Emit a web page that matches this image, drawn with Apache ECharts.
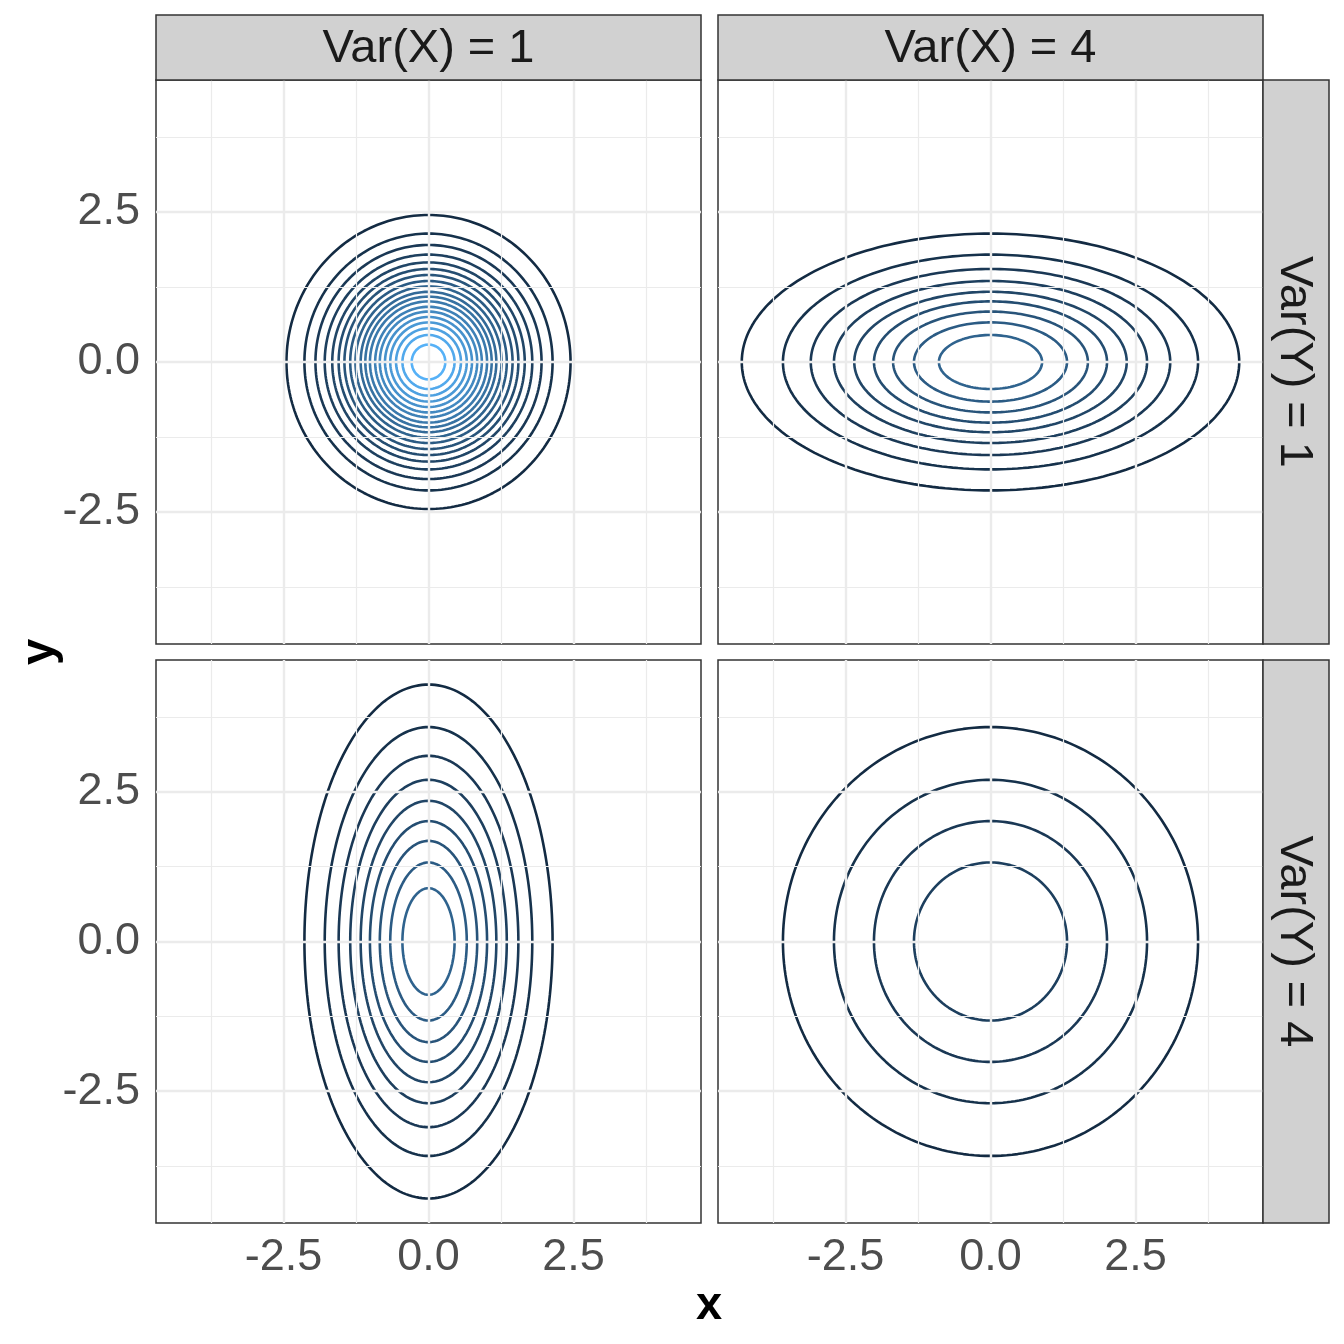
<!DOCTYPE html>
<html><head><meta charset="utf-8">
<script src="https://cdn.jsdelivr.net/npm/echarts@6/dist/echarts.min.js"></script>
<style>html,body{margin:0;padding:0;background:#fff}#c{width:1344px;height:1344px}</style>
</head><body><div id="c"></div>
<script>
// ---- data ----
const colLabels = ['Var(X) = 1', 'Var(X) = 4'];
const rowLabels = ['Var(Y) = 1', 'Var(Y) = 4'];
const tickValues = [-2.5, 0, 2.5];
const minorValues = [-3.75, -1.25, 1.25, 3.75];
const axisRange = [-4.7, 4.7];

// contour levels (density) and semi-axes of each contour per panel
const levelsTL = [0.008,0.016,0.024,0.032,0.040,0.048,0.056,0.064,0.072,0.080,0.088,0.096,0.104,0.112,0.120,0.128,0.136,0.144,0.152];
const semiXTL  = [2.45,2.14,1.95,1.79,1.66,1.55,1.45,1.35,1.26,1.17,1.09,1.01,0.92,0.84,0.75,0.66,0.56,0.45,0.29];
const semiYTL  = [2.45,2.14,1.95,1.79,1.66,1.55,1.45,1.35,1.26,1.17,1.09,1.01,0.92,0.84,0.75,0.66,0.56,0.45,0.29];

const levelsTR = [0.008,0.016,0.024,0.032,0.040,0.048,0.056,0.064,0.072];
const semiXTR  = [4.29,3.58,3.10,2.70,2.35,2.01,1.68,1.32,0.89];
const semiYTR  = [2.14,1.79,1.55,1.35,1.17,1.01,0.84,0.66,0.45];

const levelsBL = [0.008,0.016,0.024,0.032,0.040,0.048,0.056,0.064,0.072];
const semiXBL  = [2.14,1.79,1.55,1.35,1.17,1.01,0.84,0.66,0.45];
const semiYBL  = [4.29,3.58,3.10,2.70,2.35,2.01,1.68,1.32,0.89];

const levelsBR = [0.008,0.016,0.024,0.032];
const semiXBR  = [3.58,2.70,2.01,1.32];
const semiYBR  = [3.58,2.70,2.01,1.32];

const colorLow = '#132B43', colorHigh = '#56B1F7';

// ---- layout ----
const colX = [156, 718], panelW = 545;
const rowY = [80, 660], panelH = [564, 563];
const stripTop = 15, stripRightW = 66;
const FONT = "'Liberation Sans', Arial, Helvetica, sans-serif";

// ---- colour (Lab interpolation like ggplot) ----
function hexRgb(h){return [1,3,5].map(i=>parseInt(h.slice(i,i+2),16));}
function toLin(c){c/=255;return c<=0.04045?c/12.92:Math.pow((c+0.055)/1.055,2.4);}
function fromLin(c){c=c<=0.0031308?12.92*c:1.055*Math.pow(c,1/2.4)-0.055;return Math.round(Math.max(0,Math.min(1,c))*255);}
const Xn=0.95047,Yn=1,Zn=1.08883;
function f(t){return t>0.008856?Math.cbrt(t):7.787*t+16/116;}
function fi(t){return t>0.206893?t*t*t:(t-16/116)/7.787;}
function rgbLab(rgb){const [r,g,b]=rgb.map(toLin);
  const X=(0.4124*r+0.3576*g+0.1805*b)/Xn,Y=(0.2126*r+0.7152*g+0.0722*b)/Yn,Z=(0.0193*r+0.1192*g+0.9505*b)/Zn;
  return [116*f(Y)-16,500*(f(X)-f(Y)),200*(f(Y)-f(Z))];}
function labRgb(lab){const fy=(lab[0]+16)/116,fx=fy+lab[1]/500,fz=fy-lab[2]/200;
  const X=fi(fx)*Xn,Y=fi(fy)*Yn,Z=fi(fz)*Zn;
  const r=3.2406*X-1.5372*Y-0.4986*Z,g=-0.9689*X+1.8758*Y+0.0415*Z,b=0.0557*X-0.2040*Y+1.0570*Z;
  return 'rgb('+[r,g,b].map(fromLin).join(',')+')';}
const labLo=rgbLab(hexRgb(colorLow)), labHi=rgbLab(hexRgb(colorHigh));
const allLevels=[].concat(levelsTL,levelsTR,levelsBL,levelsBR);
const lvMin=Math.min(...allLevels), lvMax=Math.max(...allLevels);
function levelColor(v){const t=(v-lvMin)/(lvMax-lvMin);return labRgb(labLo.map((a,i)=>a+(labHi[i]-a)*t));}

// ---- build ----
const panels = [
  {r:0,c:0,lv:levelsTL,ax:semiXTL,ay:semiYTL},
  {r:0,c:1,lv:levelsTR,ax:semiXTR,ay:semiYTR},
  {r:1,c:0,lv:levelsBL,ax:semiXBL,ay:semiYBL},
  {r:1,c:1,lv:levelsBR,ax:semiXBR,ay:semiYBR}
];
const grids=[],xAxes=[],yAxes=[],series=[];
panels.forEach((p,i)=>{
  grids.push({left:colX[p.c],top:rowY[p.r],width:panelW,height:panelH[p.r],show:true,
    backgroundColor:'#fff',borderColor:'#333333',borderWidth:1.5,containLabel:false});
  const showX = p.r===1, showY = p.c===0;
  xAxes.push({type:'value',gridIndex:i,min:axisRange[0],max:axisRange[1],
    axisLine:{show:false},splitLine:{show:false},
    axisTick:{show:showX,customValues:tickValues,length:8,lineStyle:{color:'#333333',width:1.5}},
    axisLabel:{show:showX,customValues:tickValues,formatter:v=>Number(v).toFixed(1),
      fontSize:45,color:'#4D4D4D',fontFamily:FONT,margin:12}});
  yAxes.push({type:'value',gridIndex:i,min:axisRange[0],max:axisRange[1],
    axisLine:{show:false},splitLine:{show:false},
    axisTick:{show:showY,customValues:tickValues,length:8,lineStyle:{color:'#333333',width:1.5}},
    axisLabel:{show:showY,customValues:tickValues,formatter:v=>Number(v).toFixed(1),
      fontSize:45,color:'#4D4D4D',fontFamily:FONT,margin:16}});
  const ml=[];
  minorValues.forEach(v=>{ml.push({xAxis:v,lineStyle:{width:1.2}});ml.push({yAxis:v,lineStyle:{width:1.2}});});
  tickValues.forEach(v=>{ml.push({xAxis:v,lineStyle:{width:2.4}});ml.push({yAxis:v,lineStyle:{width:2.4}});});
  series.push({type:'line',xAxisIndex:i,yAxisIndex:i,data:[[0,0]],showSymbol:false,symbol:'none',
    lineStyle:{width:0},silent:true,z:1,
    markLine:{silent:true,symbol:['none','none'],label:{show:false},animation:false,
      lineStyle:{color:'#EBEBEB',type:'solid'},data:ml}});
  p.lv.forEach((lv,k)=>{
    const a=p.ax[k],b=p.ay[k],pts=[],N=240;
    for(let j=0;j<=N;j++){const t=2*Math.PI*j/N;pts.push([a*Math.cos(t),b*Math.sin(t)]);}
    series.push({type:'line',xAxisIndex:i,yAxisIndex:i,data:pts,showSymbol:false,symbol:'none',
      smooth:false,silent:true,z:3,lineStyle:{color:levelColor(lv),width:2.6}});
  });
});

const graphics=[];
colLabels.forEach((t,c)=>{
  graphics.push({type:'rect',shape:{x:colX[c],y:stripTop,width:panelW,height:rowY[0]-stripTop},
    style:{fill:'#D1D1D1',stroke:'#333333',lineWidth:1.5},z:10});
  graphics.push({type:'text',x:colX[c]+panelW/2,y:(stripTop+rowY[0])/2+2,
    style:{text:t,fontSize:47,fontFamily:FONT,fill:'#1A1A1A',align:'center',verticalAlign:'middle'},z:11});
});
rowLabels.forEach((t,r)=>{
  const x0=colX[1]+panelW;
  graphics.push({type:'rect',shape:{x:x0,y:rowY[r],width:stripRightW,height:panelH[r]},
    style:{fill:'#D1D1D1',stroke:'#333333',lineWidth:1.5},z:10});
  graphics.push({type:'text',x:x0+stripRightW/2-2,y:rowY[r]+panelH[r]/2,rotation:-Math.PI/2,
    style:{text:t,fontSize:47,fontFamily:FONT,fill:'#1A1A1A',align:'center',verticalAlign:'middle'},z:11});
});
graphics.push({type:'text',x:709,y:1306,style:{text:'x',fontSize:47,fontWeight:'bold',fontFamily:FONT,fill:'#000',align:'center',verticalAlign:'middle'}});
graphics.push({type:'text',x:40,y:652,rotation:Math.PI/2,style:{text:'y',fontSize:47,fontWeight:'bold',fontFamily:FONT,fill:'#000',align:'center',verticalAlign:'middle'}});

const chart=echarts.init(document.getElementById('c'),null,{renderer:'canvas'});
chart.setOption({backgroundColor:'#fff',animation:false,grid:grids,xAxis:xAxes,yAxis:yAxes,series:series,graphic:graphics});
</script></body></html>
